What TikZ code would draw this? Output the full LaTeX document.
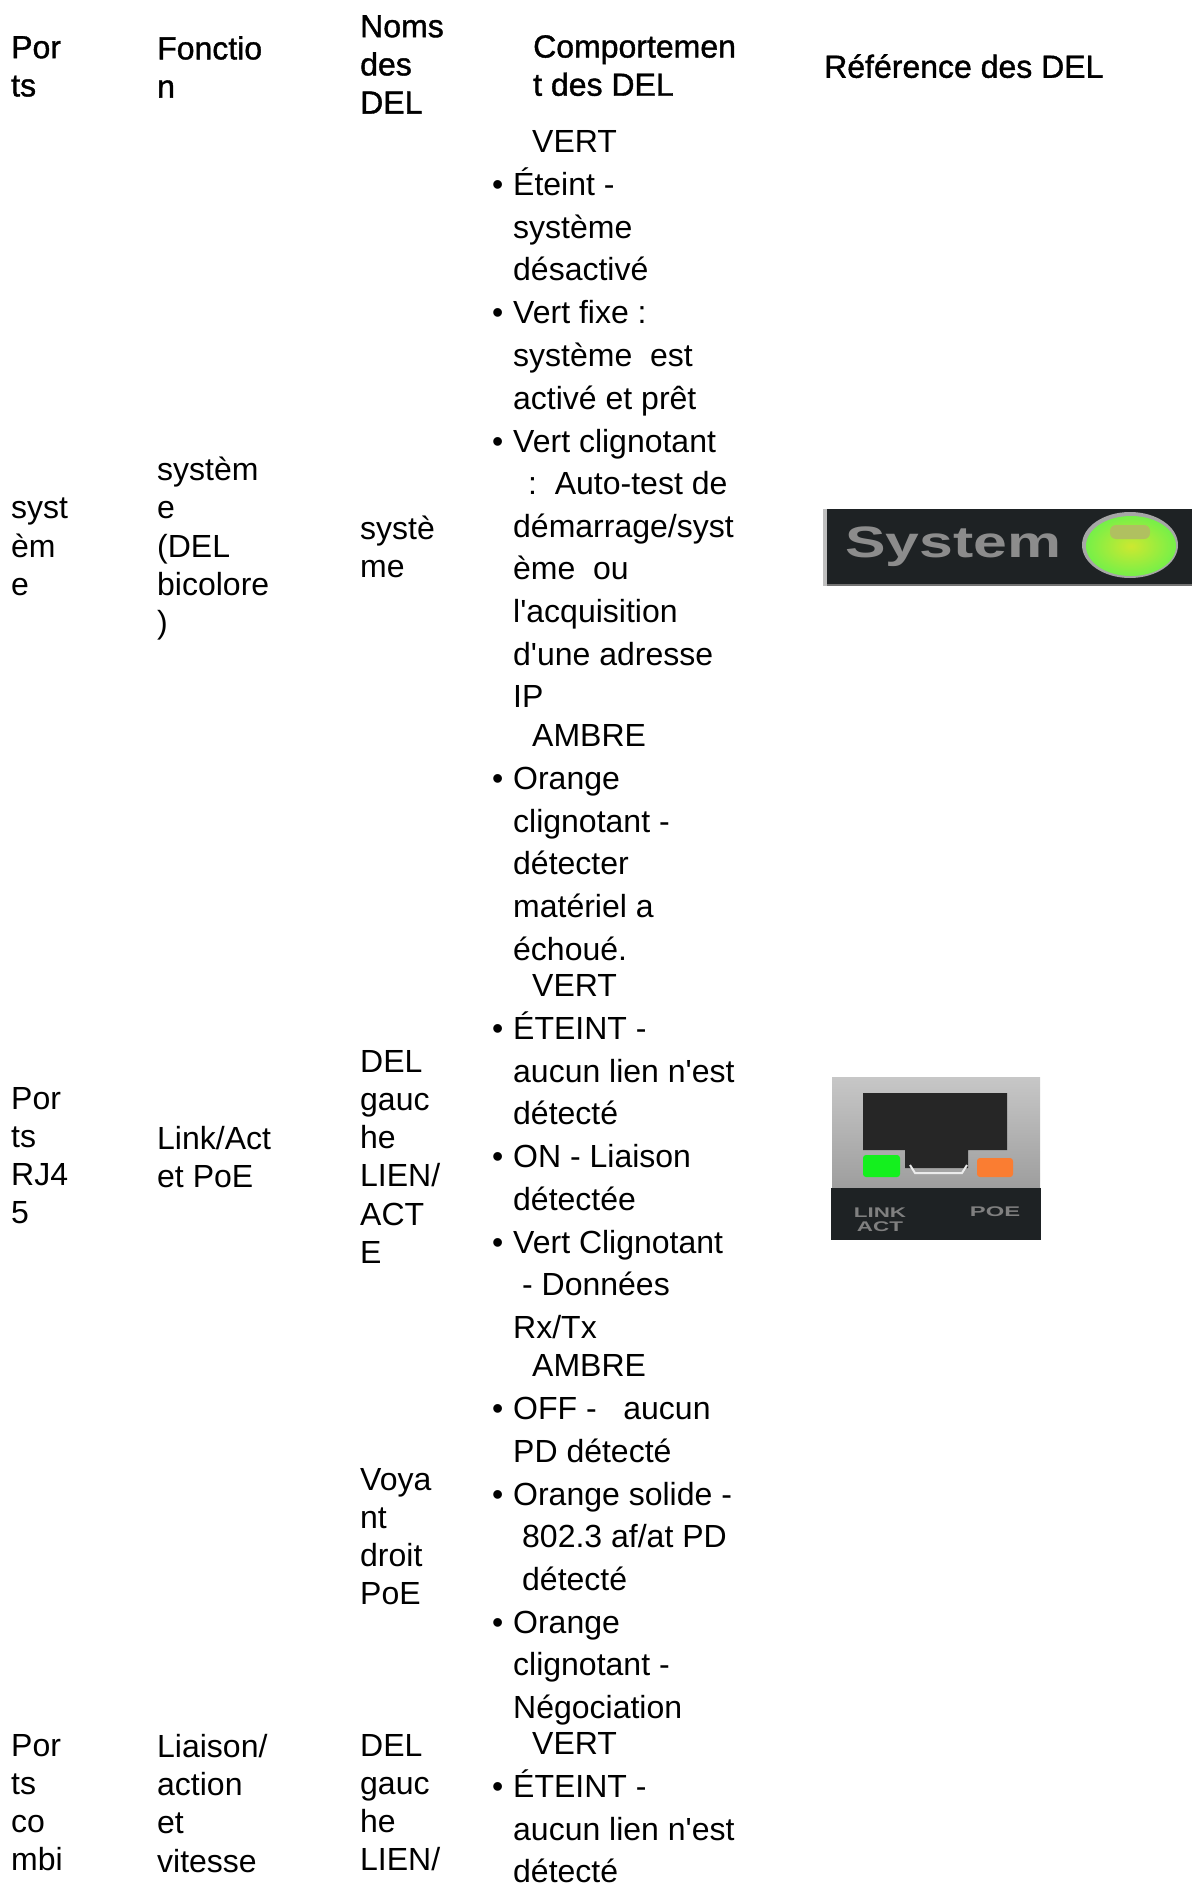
\documentclass[tikz,border=0pt]{standalone}
\usepackage{fontspec}
\setmainfont{Liberation Sans}
\newfontfamily\bodyfont{Liberation Sans}
\newfontfamily\headfont[FakeBold=1.2]{Liberation Sans}
\usetikzlibrary{positioning}
\definecolor{panel}{HTML}{1E2224}
\definecolor{ledgreen}{HTML}{76F048}
\definecolor{ledyellow}{HTML}{CDE830}
\definecolor{ledtop}{HTML}{B0C060}
\definecolor{linkgreen}{HTML}{14F01E}
\definecolor{poeorange}{HTML}{FA7D32}
\newcommand{\puce}{\rule{0pt}{29.8pt}\llap{\textbullet\hspace{10pt}}}
\newcommand{\couleur}{\rule{0pt}{29.8pt}\hspace*{19pt}}

\begin{document}
\begin{tikzpicture}[x=1pt,y=-1pt,
    cell/.style={anchor=north west,inner sep=0pt,align=left,
      font=\fontsize{32}{38.2}\selectfont\bodyfont},
    head/.style={cell,font=\fontsize{32}{38.2}\selectfont\headfont},
    item/.style={cell,font=\fontsize{32}{42.6}\selectfont\bodyfont,text depth=12.8pt},
    wlabel/.style={inner sep=0pt,text=black!50,font=\fontsize{14}{14}\selectfont\bfseries,align=center}]
  \useasboundingbox (0,0) rectangle (1192,1886);

  % header row
  \node[head] (hports) at (11,36) {Por\\ts};
  \node[head] (hfonction) at (157,36) {Fonctio\\n};
  \node[head] (hnoms) at (360,15) {Noms\\des\\DEL};
  \node[head] (hcomport) at (533,35) {Comportemen\\t des DEL};
  \node[head] (href) at (824,54) {Référence des DEL};

  % system row
  \node[cell] (sports) at (11,498) {syst\\èm\\e};
  \node[cell] (sfonction) at (157,457) {systèm\\e\\(DEL\\bicolore\\)};
  \node[cell] (snom) at (360,516) {systè\\me};

  % RJ45 row
  \node[cell] (rports) at (11,1087) {Por\\ts\\RJ4\\5};
  \node[cell] (rfonction) at (157,1126) {Link/Act\\et PoE};
  \node[cell] (rnom) at (360,1050) {DEL\\gauc\\he\\LIEN/\\ACT\\E};
  \node[cell] (rpoe) at (360,1468) {Voya\\nt\\droit\\PoE};

  % combo row
  \node[cell] (cports) at (11,1734) {Por\\ts\\co\\mbi};
  \node[cell] (cfonction) at (157,1734) {Liaison/\\action\\et\\vitesse};
  \node[cell] (cnom) at (360,1734) {DEL\\gauc\\he\\LIEN/};

  % behaviour column
  \node[item] (v1) at (513,122.6) {\couleur VERT};
  \node[item,below=0pt of v1.south west,anchor=north west] (v2) {\puce Éteint -\\système\\désactivé};
  \node[item,below=0pt of v2.south west,anchor=north west] (v3) {\puce Vert fixe :\\système\ \ est\\activé et prêt};
  \node[item,below=0pt of v3.south west,anchor=north west] (v4) {\puce Vert clignotant\\\hspace*{15pt}:\ \ Auto-test de\\démarrage/syst\\ème\ \ ou\\l'acquisition\\d'une adresse\\IP};
  \node[item,below=-4pt of v4.south west,anchor=north west] (a1) {\couleur AMBRE};
  \node[item,below=0pt of a1.south west,anchor=north west] (a2) {\puce Orange\\clignotant -\\détecter\\matériel a\\échoué.};
  \node[item,below=-6.5pt of a2.south west,anchor=north west] (v5) {\couleur VERT};
  \node[item,below=0pt of v5.south west,anchor=north west] (v6) {\puce ÉTEINT -\\aucun lien n'est\\détecté};
  \node[item,below=0pt of v6.south west,anchor=north west] (v7) {\puce ON - Liaison\\détectée};
  \node[item,below=0pt of v7.south west,anchor=north west] (v8) {\puce Vert Clignotant\\\hspace*{9pt}- Données\\Rx/Tx};
  \node[item,below=-5pt of v8.south west,anchor=north west] (a3) {\couleur AMBRE};
  \node[item,below=0pt of a3.south west,anchor=north west] (a4) {\puce OFF -\ \ \ aucun\\PD détecté};
  \node[item,below=0pt of a4.south west,anchor=north west] (a5) {\puce Orange solide -\\\hspace*{9pt}802.3 af/at PD\\\hspace*{9pt}détecté};
  \node[item,below=0pt of a5.south west,anchor=north west] (a6) {\puce Orange\\clignotant -\\Négociation};
  \node[item,below=-7pt of a6.south west,anchor=north west] (v9) {\couleur VERT};
  \node[item,below=0pt of v9.south west,anchor=north west] (v10) {\puce ÉTEINT -\\aucun lien n'est\\détecté};

  % system LED picture
  \fill[black!25] (823,509) rectangle (828,586);
  \fill[panel] (827,509) rectangle (1192,584);
  \fill[black!55] (827,584) rectangle (1192,586);
  \node[inner sep=0pt,anchor=base west,text=black!45,font=\fontsize{44}{44}\selectfont\bfseries] (systxt) at (845,557) {\scalebox{1.38}[1]{System}};
  \fill[black!35] (1130,545) ellipse (48 and 33);
  \shade[inner color=ledyellow,outer color=ledgreen] (1131,546) ellipse (45 and 30);
  \fill[rounded corners=6pt,ledtop] (1110,525) rectangle (1150,539);

  % RJ45 LED picture
  \shade[top color=black!22,bottom color=black!38] (832,1077) rectangle (1040,1187);
  \fill[black!85] (863,1093) -- (1007,1093) -- (1007,1150) -- (968,1150) -- (968,1168) -- (905,1168) -- (905,1150) -- (863,1150) -- cycle;
  \fill[panel] (831,1188) rectangle (1041,1240);
  \fill[rounded corners=3pt,linkgreen] (863,1155) rectangle (900,1177);
  \fill[rounded corners=3pt,poeorange] (977,1158) rectangle (1013,1177);
  \draw[black!8,line width=2pt] (910,1165) -- (915,1173) -- (962,1173) -- (967,1165);
  \node[wlabel] (linkact) at (880,1220) {\scalebox{1.6}[1]{LINK}\\\scalebox{1.6}[1]{ACT}};
  \node[wlabel] (poe) at (995,1212) {\scalebox{1.7}[1]{POE}};
\end{tikzpicture}
\end{document}
